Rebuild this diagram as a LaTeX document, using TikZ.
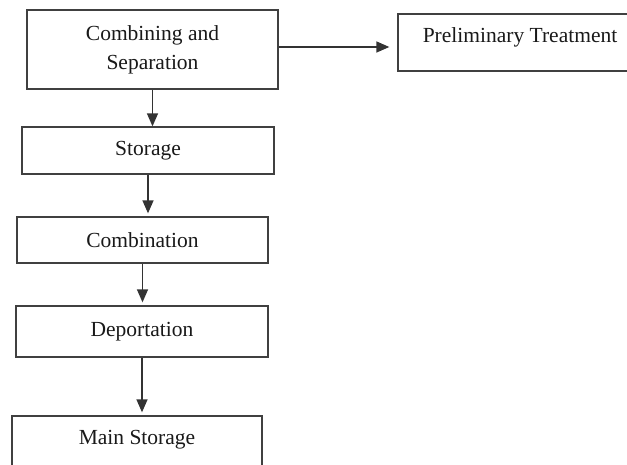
\documentclass[tikz,border=0pt]{standalone}
\usepackage{fontspec}
\setmainfont{Liberation Serif}
\usetikzlibrary{arrows.meta}

\begin{document}
\begin{tikzpicture}
    [x=1pt, y=-1pt,
    % Process steps
    stage/.style={rectangle, draw=black!75, line width=1.3pt, text=black!90, align=center, minimum width=251pt, font=\fontsize{21.5}{29}\selectfont},
    % Steps cut off by the page edge
    cutoff/.style={stage, text depth=15pt, minimum height=57pt},
    line/.style={draw=black!80, line width=1.4pt, -{Triangle[length=13pt,width=11pt]}, shorten >=3pt}]
    \useasboundingbox (0,0) rectangle (627,465);
    \clip (0,0) rectangle (627,465);
    % First step and side branch
    \node [stage, minimum height=79pt] (combine) at (152.5,49.5) {Combining and\\Separation};
    \node [cutoff, minimum width=244pt] (prelim) at (520,42.5) {Preliminary Treatment};
    % Main chain
    \node [stage, minimum width=252pt, minimum height=47pt] (storage) at (148,150.5) {Storage};
    \node [stage, minimum height=46pt] (combination) at (142.5,240) {Combination};
    \node [stage, minimum width=252pt, minimum height=51pt] (deport) at (142,331.5) {Deportation};
    \node [cutoff, minimum width=250pt] (mainstore) at (137,444.5) {Main Storage};
    % Connectors
    \coordinate (branch) at ([yshift=2.5pt]combine.east);
    \path [line, shorten >=8pt] (branch) -- (branch -| prelim.west);
    \path [line, shorten >=0pt] (combine.south) -- (combine.south |- storage.north);
    \path [line] (storage.south) -- (storage.south |- combination.north);
    \path [line] (combination.south) -- (combination.south |- deport.north);
    \path [line] (deport.south) -- (deport.south |- mainstore.north);
\end{tikzpicture}
\end{document}
